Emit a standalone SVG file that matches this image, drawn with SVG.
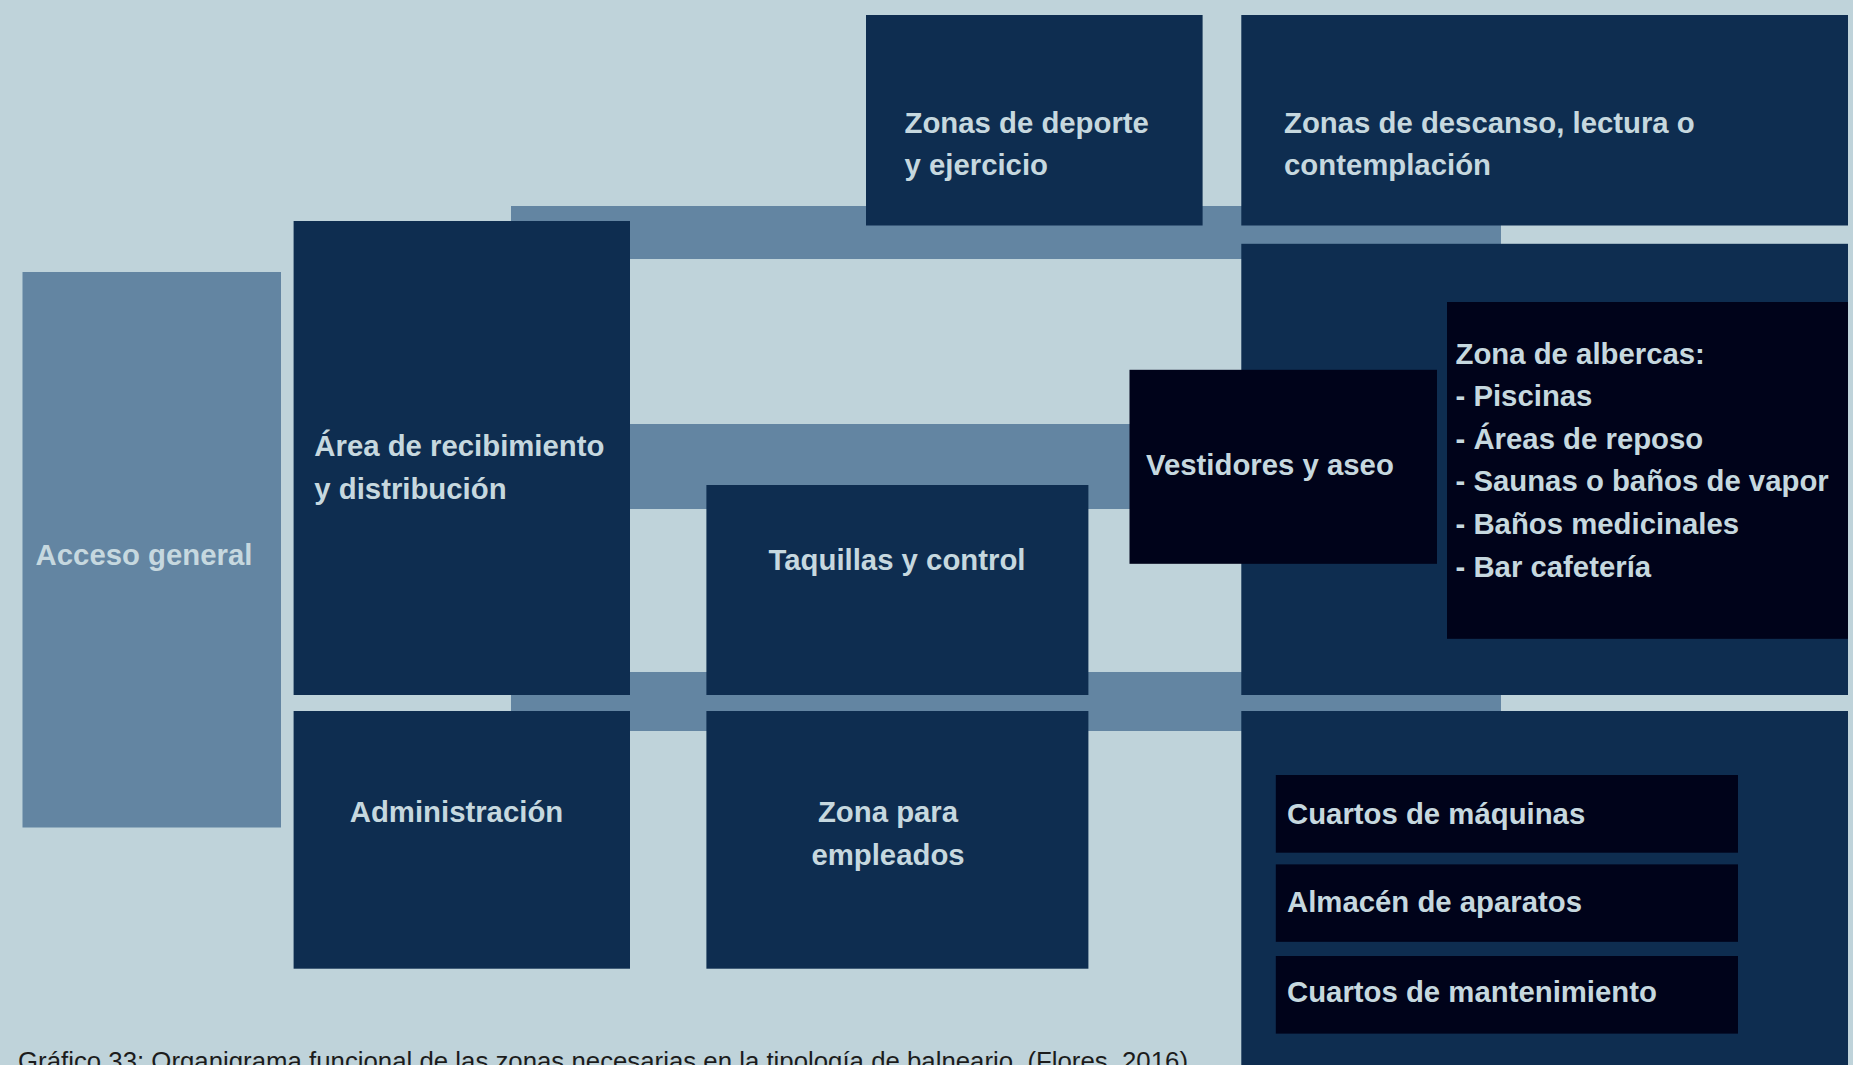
<svg xmlns="http://www.w3.org/2000/svg" width="1853" height="1065" viewBox="0 0 1853 1065">
<style>
.bg{fill:#bfd3da}
.navy{fill:#0e2d50}
.mid{fill:#6385a2}
.dark{fill:#00031a}
.t{font-family:"Liberation Sans",Arial,sans-serif;font-weight:bold;font-size:29.33px;fill:#c6d8df}
.c{text-anchor:middle}
.cap{font-family:"Liberation Sans",Arial,sans-serif;font-size:25.3px;fill:#1c1c1c}
</style>
<rect class="bg" x="0" y="0" width="1853" height="1065"/>
<g id="connectors">
<rect class="mid" x="511" y="206" width="990" height="53"/>
<rect class="mid" x="600" y="424" width="560" height="85"/>
<rect class="mid" x="511" y="672" width="990" height="59"/>
</g>
<g id="acceso">
<rect class="mid" x="22.5" y="272" width="258.5" height="555.5"/>
<text class="t" x="35.6" y="565">Acceso general</text>
</g>
<g id="recibimiento">
<rect class="navy" x="293.6" y="221" width="336.4" height="474"/>
<text class="t" x="314.3" y="456">Área de recibimiento</text>
<text class="t" x="314.3" y="498.5">y distribución</text>
</g>
<g id="administracion">
<rect class="navy" x="293.6" y="711" width="336.4" height="257.7"/>
<text class="t c" x="456.5" y="822.4">Administración</text>
</g>
<g id="taquillas">
<rect class="navy" x="706.4" y="485" width="382" height="210"/>
<text class="t c" x="897" y="570">Taquillas y control</text>
</g>
<g id="empleados">
<rect class="navy" x="706.4" y="711" width="382" height="257.7"/>
<text class="t c" x="888" y="822.4">Zona para</text>
<text class="t c" x="888" y="865">empleados</text>
</g>
<g id="deporte">
<rect class="navy" x="866" y="15" width="336.6" height="210.5"/>
<text class="t" x="904.5" y="132.6">Zonas de deporte</text>
<text class="t" x="904.5" y="175.2">y ejercicio</text>
</g>
<g id="descanso">
<rect class="navy" x="1241.3" y="15" width="606.7" height="210.5"/>
<text class="t" x="1284" y="132.6">Zonas de descanso, lectura o</text>
<text class="t" x="1284" y="175.2">contemplación</text>
</g>
<g id="albercas-area">
<rect class="navy" x="1241.3" y="243.8" width="606.7" height="451.2"/>
</g>
<g id="albercas">
<rect class="dark" x="1447" y="302" width="401" height="336.8"/>
<text class="t" x="1455.5" y="363.5">Zona de albercas:</text>
<text class="t" x="1455.5" y="406.1">- Piscinas</text>
<text class="t" x="1455.5" y="448.7">- Áreas de reposo</text>
<text class="t" x="1455.5" y="491.3">- Saunas o baños de vapor</text>
<text class="t" x="1455.5" y="533.9">- Baños medicinales</text>
<text class="t" x="1455.5" y="576.5">- Bar cafetería</text>
</g>
<g id="vestidores">
<rect class="dark" x="1129.5" y="369.8" width="307.5" height="194"/>
<text class="t" x="1146" y="475">Vestidores y aseo</text>
</g>
<g id="servicios">
<rect class="navy" x="1241.3" y="711" width="606.7" height="354"/>
</g>
<g id="maquinas">
<rect class="dark" x="1275.8" y="775" width="462.2" height="77.7"/>
<text class="t" x="1287" y="824">Cuartos de máquinas</text>
</g>
<g id="almacen">
<rect class="dark" x="1275.8" y="864.4" width="462.2" height="77.4"/>
<text class="t" x="1287" y="912">Almacén de aparatos</text>
</g>
<g id="mantenimiento">
<rect class="dark" x="1275.8" y="956" width="462.2" height="77.6"/>
<text class="t" x="1287" y="1002">Cuartos de mantenimiento</text>
</g>
<text class="cap" x="18" y="1070" textLength="1170" lengthAdjust="spacingAndGlyphs">Gráfico 33: Organigrama funcional de las zonas necesarias en la tipología de balneario. (Flores, 2016)</text>
</svg>
